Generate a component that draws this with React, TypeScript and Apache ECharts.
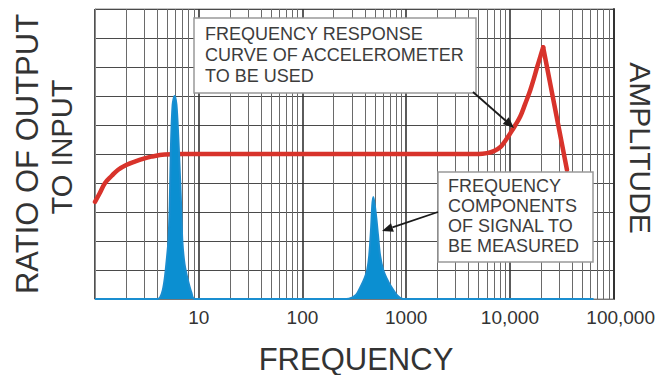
import React, { useEffect, useRef } from "react";
import * as echarts from "echarts";

// Frequency (Hz) / ratio values
const RESPONSE_RISE_F = [1.0, 1.1, 1.25, 1.45, 1.66, 2.0, 2.42, 3.0, 3.5, 4.7, 7, 100, 1000, 3900, 5000, 6000, 7000, 8100, 9000, 10100, 11300, 12600, 14000, 15700, 17000, 18300, 19600, 20900];
const RESPONSE_RISE_V = [3.35, 3.62, 4.0, 4.25, 4.45, 4.62, 4.74, 4.85, 4.91, 4.98, 5.0, 5.0, 5.0, 5.0, 5.0, 5.03, 5.1, 5.24, 5.45, 5.72, 6.0, 6.3, 6.72, 7.2, 7.6, 8.0, 8.35, 8.68];
const RESPONSE_FALL_F = [20900, 35500];
const RESPONSE_FALL_V = [8.68, 4.45];

const SIGNAL_F = [1, 4.0, 4.25, 4.5, 4.7, 4.9, 5.1, 5.25, 5.4, 5.6, 5.85, 6.1, 6.35, 6.6, 6.8, 6.95, 7.3, 7.8, 8.5, 9.1,
  265, 300, 330, 370, 400, 421, 440, 458, 470, 481, 495, 515, 535, 560, 600, 650, 700, 820, 930, 64000];
const SIGNAL_V = [0, 0, 0.06, 0.3, 0.7, 1.3, 2.0, 3.2, 5.3, 6.7, 7.0, 6.7, 5.6, 4.2, 3.0, 2.0, 1.2, 0.7, 0.22, 0,
  0, 0.05, 0.15, 0.48, 0.75, 1.0, 1.5, 2.4, 3.2, 3.52, 3.3, 2.8, 2.2, 1.5, 1.0, 0.7, 0.48, 0.12, 0, 0];

const X_MIN = 1;
const X_MAX = 100000;
const TICK_LABELS: Record<string, string> = {
  "1": "",
  "10": "10",
  "100": "100",
  "1000": "1000",
  "10000": "10,000",
  "100000": "100,000",
};
const MINOR_MULTIPLIERS = [2, 3, 4, 5, 6, 7, 8, 9];
const DECADES = [1, 10, 100, 1000, 10000];

const pair = (xs: number[], ys: number[]) => xs.map((x, i) => [x, ys[i]]);

function arrow(sx: number, sy: number, tx: number, ty: number) {
  const dx = tx - sx;
  const dy = ty - sy;
  const len = Math.sqrt(dx * dx + dy * dy);
  const ux = dx / len;
  const uy = dy / len;
  const hl = 11;
  const hw = 4.5;
  const bx = tx - hl * ux;
  const by = ty - hl * uy;
  const nx = -uy;
  const ny = ux;
  return [
    {
      type: "line",
      z: 100,
      shape: { x1: sx, y1: sy, x2: bx, y2: by },
      style: { stroke: "#1a1a1a", lineWidth: 1.8 },
    },
    {
      type: "polygon",
      z: 100,
      shape: {
        points: [
          [tx, ty],
          [bx + hw * nx, by + hw * ny],
          [bx - hw * nx, by - hw * ny],
        ],
      },
      style: { fill: "#1a1a1a" },
    },
  ];
}

export default function App() {
  const ref = useRef<HTMLDivElement>(null);
  useEffect(() => {
    document.body.style.margin = "0";
    if (!ref.current) return;
    const chart = echarts.init(ref.current, undefined, { renderer: "svg" });
    const minorLines: number[] = [];
    DECADES.forEach((d) => MINOR_MULTIPLIERS.forEach((m) => minorLines.push(m * d)));
    const font = "'Liberation Sans', Arial, Helvetica, sans-serif";
    const textColor = "#333";

    chart.setOption({
      animation: false,
      backgroundColor: "#fff",
      grid: {
        left: 95,
        top: 9,
        width: 522,
        height: 290,
        show: true,
        borderColor: "#8a8a8a",
        borderWidth: 1,
        backgroundColor: "#fff",
      },
      xAxis: {
        type: "log",
        logBase: 10,
        min: X_MIN,
        max: X_MAX,
        axisLine: { show: true, lineStyle: { color: "#777", width: 1 } },
        axisTick: { show: false },
        splitLine: { show: true, lineStyle: { color: "#333", width: 1.6 } },
        axisLabel: {
          show: true,
          margin: 9,
          fontSize: 19,
          fontFamily: font,
          color: textColor,
          formatter: (v: number) => {
            const key = String(Math.round(v));
            const t = TICK_LABELS[key] ?? "";
            return key === "100000" ? `{last|${t}}` : t;
          },
          rich: {
            last: { fontSize: 19, fontFamily: font, color: textColor, padding: [0, 0, 0, 14] },
          },
        },
      },
      yAxis: [
        {
          type: "value",
          min: 0,
          max: 10,
          interval: 1,
          axisLine: { show: true, lineStyle: { color: "#888", width: 1 } },
          axisTick: { show: false },
          axisLabel: { show: false },
          splitLine: { show: true, lineStyle: { color: "#4a4a4a", width: 1 } },
        },
        {
          type: "value",
          position: "right",
          min: 0,
          max: 10,
          interval: 1,
          axisLine: { show: true, lineStyle: { color: "#333", width: 2 } },
          axisTick: { show: false },
          axisLabel: { show: false },
          splitLine: { show: false },
        },
      ],
      series: [
        {
          type: "line",
          data: [],
          silent: true,
          z: 1,
          markLine: {
            silent: true,
            z: 1,
            symbol: ["none", "none"],
            label: { show: false },
            lineStyle: { color: "#6a6a6a", width: 1, type: "solid" },
            data: minorLines.map((v) => ({ xAxis: v })),
          },
        },
        {
          type: "line",
          data: pair(RESPONSE_RISE_F, RESPONSE_RISE_V),
          smooth: 0.4,
          showSymbol: false,
          symbol: "none",
          lineStyle: { color: "#d8332b", width: 4.5, cap: "round", join: "round" },
          z: 3,
        },
        {
          type: "line",
          data: pair(RESPONSE_FALL_F, RESPONSE_FALL_V),
          showSymbol: false,
          symbol: "none",
          lineStyle: { color: "#d8332b", width: 4.5, cap: "round", join: "round" },
          z: 3,
        },
        {
          type: "line",
          data: pair(SIGNAL_F, SIGNAL_V),
          smooth: 0.3,
          showSymbol: false,
          symbol: "none",
          lineStyle: { color: "#1a8ed0", width: 2 },
          areaStyle: { color: "#0b8fd1", opacity: 1 },
          z: 6,
        },
      ],
      graphic: [
        {
          type: "rect",
          z: 90,
          shape: { x: 194, y: 18, width: 282, height: 75 },
          style: { fill: "#fff", stroke: "#999", lineWidth: 1.5 },
        },
        {
          type: "text",
          z: 95,
          x: 205,
          y: 23,
          style: {
            text: "FREQUENCY RESPONSE\nCURVE OF ACCELEROMETER\nTO BE USED",
            font: `18px ${font}`,
            fill: "#3c3c3c",
            lineHeight: 21,
            align: "left",
            verticalAlign: "top",
          },
        },
        {
          type: "rect",
          z: 90,
          shape: { x: 438, y: 172, width: 155, height: 90 },
          style: { fill: "#fff", stroke: "#999", lineWidth: 1.5 },
        },
        {
          type: "text",
          z: 95,
          x: 448,
          y: 176,
          style: {
            text: "FREQUENCY\nCOMPONENTS\nOF SIGNAL TO\nBE MEASURED",
            font: `18px ${font}`,
            fill: "#3c3c3c",
            lineHeight: 20,
            align: "left",
            verticalAlign: "top",
          },
        },
        ...arrow(473, 92, 514, 128),
        ...arrow(438, 212, 382, 231),
        {
          type: "text",
          x: 27,
          y: 154,
          rotation: Math.PI / 2,
          style: {
            text: "RATIO OF OUTPUT",
            font: `31px ${font}`,
            fill: textColor,
            align: "center",
            verticalAlign: "middle",
          },
        },
        {
          type: "text",
          x: 62,
          y: 147,
          rotation: Math.PI / 2,
          style: {
            text: "TO INPUT",
            font: `29px ${font}`,
            fill: textColor,
            align: "center",
            verticalAlign: "middle",
          },
        },
        {
          type: "text",
          x: 640,
          y: 148,
          rotation: -Math.PI / 2,
          style: {
            text: "AMPLITUDE",
            font: `30px ${font}`,
            fill: textColor,
            align: "center",
            verticalAlign: "middle",
          },
        },
        {
          type: "text",
          x: 356,
          y: 359,
          style: {
            text: "FREQUENCY",
            font: `31px ${font}`,
            fill: textColor,
            align: "center",
            verticalAlign: "middle",
          },
        },
      ],
    });
    return () => chart.dispose();
  }, []);
  return (
    <div
      ref={ref}
      style={{ position: "absolute", left: 0, top: 0, width: 658, height: 375 }}
    />
  );
}
